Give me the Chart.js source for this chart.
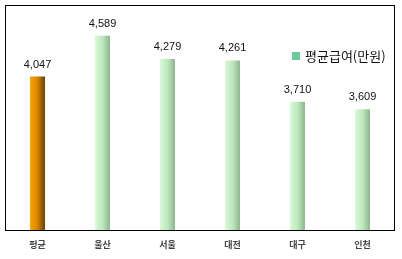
<!DOCTYPE html>
<html>
<head>
<meta charset="utf-8">
<script src="https://cdn.jsdelivr.net/npm/chart.js@4/dist/chart.umd.min.js"></script>
<style>
    html, body { margin: 0; padding: 0; background: #fff; }
    #wrap { position: relative; width: 402px; height: 259px; }
    #legend {
        position: absolute; left: 292px; top: 46px;
        font: 13px "Noto Sans CJK KR", sans-serif; color: #111;
        display: flex; align-items: center; white-space: nowrap;
    }
    #legend i { display: inline-block; width: 8px; height: 8px; background: #6ccb9a; margin-right: 5px; }
</style>
</head>
<body>
<div id="wrap">
    <canvas id="chart" width="402" height="259"></canvas>
    <div id="legend"><i></i><span>평균급여(만원)</span></div>
</div>
<script>
// values
const categories = ["평균", "울산", "서울", "대전", "대구", "인천"];
const salary = [4047, 4589, 4279, 4261, 3710, 3609];
const seriesLabel = "평균급여(만원)";

// cylinder-like shading across each bar
function barFill(context) {
    const chart = context.chart;
    if (!chart.chartArea) {
        return "#b8e6b8";
    }
    const x = chart.scales.x.getPixelForValue(context.dataIndex);
    const g = chart.ctx.createLinearGradient(x - 7.5, 0, x + 7.5, 0);
    if (context.dataIndex === 0) {
        g.addColorStop(0, "#f8a400");
        g.addColorStop(0.45, "#e08a00");
        g.addColorStop(1, "#6a4000");
    } else {
        g.addColorStop(0, "#d8fad8");
        g.addColorStop(0.5, "#bde8bd");
        g.addColorStop(1, "#8db58d");
    }
    return g;
}

const frame = {
    id: "frame",
    afterDraw(chart) {
        const { ctx, chartArea: a } = chart;
        ctx.save();
        ctx.strokeStyle = "#000";
        ctx.lineWidth = 1;
        ctx.strokeRect(a.left + 0.5, a.top + 0.5, a.right - a.left - 1, a.bottom - a.top);
        ctx.restore();
    },
};

const valueLabels = {
    id: "valueLabels",
    afterDatasetsDraw(chart) {
        const { ctx } = chart;
        const meta = chart.getDatasetMeta(0);
        ctx.save();
        ctx.font = '11px "Liberation Sans", Arial, sans-serif';
        ctx.fillStyle = "#111";
        ctx.textAlign = "center";
        ctx.textBaseline = "middle";
        meta.data.forEach((bar, i) => {
            ctx.fillText(salary[i].toLocaleString("en-US"), bar.x, bar.y - 12);
        });
        ctx.restore();
    },
};

new Chart(document.getElementById("chart"), {
    type: "bar",
    data: {
        labels: categories,
        datasets: [
            {
                label: seriesLabel,
                data: salary,
                backgroundColor: barFill,
                borderWidth: 0,
                barPercentage: 0.23,
                categoryPercentage: 1,
            },
        ],
    },
    options: {
        responsive: false,
        animation: false,
        layout: { padding: { left: 5, right: 7, top: 5, bottom: 0 } },
        plugins: {
            legend: { display: false },
            tooltip: { enabled: false },
        },
        scales: {
            y: { display: false, min: 2000, max: 5000 },
            x: {
                grid: { display: false, drawTicks: false },
                border: { display: false },
                ticks: {
                    color: "#444",
                    padding: 9,
                    font: { family: '"Noto Sans CJK KR", sans-serif', size: 9, weight: "bold" },
                },
                afterFit(scale) {
                    scale.height = 29;
                },
            },
        },
    },
    plugins: [frame, valueLabels],
});
</script>
</body>
</html>
